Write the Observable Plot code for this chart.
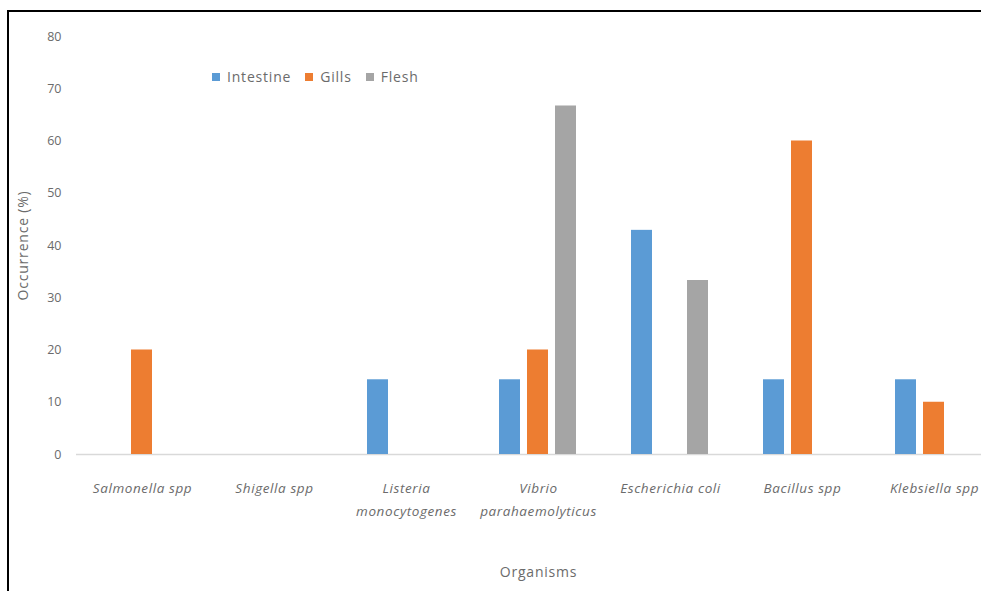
<!DOCTYPE html>
<html>
<head>
<meta charset="utf-8">
<script src="https://cdn.jsdelivr.net/npm/d3@7"></script>
<script src="https://cdn.jsdelivr.net/npm/@observablehq/plot@0.6"></script>
<style>
  html, body { margin: 0; padding: 0; background: #fff; overflow: hidden; width: 981px; height: 591px; }
  #frame { position: absolute; left: 7px; top: 10px; width: 1100px; height: 700px; border-left: 2px solid #000; border-top: 2px solid #000; }
  #chart { position: absolute; left: 0; top: 0; }
  #legend { position: absolute; left: 212px; top: 60px; }
  #legend span { letter-spacing: 0.8px; }
</style>
</head>
<body>
<div id="chart"></div>
<div id="frame"></div>
<div id="legend"></div>
<script>
const organisms = ["Salmonella spp", "Shigella spp", "Listeria\nmonocytogenes", "Vibrio\nparahaemolyticus", "Escherichia coli", "Bacillus spp", "Klebsiella spp"];
const seriesNames = ["Intestine", "Gills", "Flesh"];
const seriesColors = ["#5B9BD5", "#ED7D31", "#A5A5A5"];
const intestine = [0, 0, 14.3, 14.3, 42.9, 14.3, 14.3];
const gills = [20, 0, 0, 20, 0, 60, 10];
const flesh = [0, 0, 0, 66.7, 33.3, 0, 0];
const yTicks = [0, 10, 20, 30, 40, 50, 60, 70, 80];

const seriesValues = [intestine, gills, flesh];
const data = [];
organisms.forEach((o, i) => {
  seriesNames.forEach((s, j) => {
    data.push({organism: o, series: s, value: seriesValues[j][i]});
  });
});

const font = "'Open Sans', sans-serif";
const textColor = "#6b6b6b";

const plot = Plot.plot({
  width: 981,
  height: 591,
  marginLeft: 75,
  marginRight: -20,
  marginTop: 36,
  marginBottom: 137,
  style: { fontFamily: font, color: textColor, background: "transparent", overflow: "visible" },
  fx: { domain: organisms, padding: 0 },
  x: { domain: seriesNames, paddingInner: 0.24, paddingOuter: 0.9, axis: null },
  y: { domain: [0, 80] },
  color: { domain: seriesNames, range: seriesColors },
  marks: [
    Plot.ruleY([0], { stroke: "#d9d9d9", strokeWidth: 1.5 }),
    Plot.barY(data, { fx: "organism", x: "series", y: "value", fill: "series" }),
    Plot.axisY({ ticks: yTicks, tickSize: 0, tickPadding: 15, fontSize: 12.5, label: "Occurrence (%)", labelAnchor: "center", labelArrow: "none", labelOffset: 58 }),
    Plot.axisFx({ anchor: "bottom", tickSize: 0, tickPadding: 22, fontSize: 13.5, fontStyle: "italic", lineHeight: 1.7, label: "Organisms", labelAnchor: "center", labelArrow: "none", labelOffset: 122 })
  ]
});
plot.querySelectorAll("[aria-label='y-axis label'] text, [aria-label='fx-axis label'] text, [aria-label='y-axis label'], [aria-label='fx-axis label']").forEach(t => {
  t.setAttribute("font-size", "14");
  t.setAttribute("font-style", "normal");
  t.setAttribute("letter-spacing", "0.8");
});
plot.querySelectorAll("[aria-label='fx-axis tick label']").forEach(g => g.setAttribute("letter-spacing", "0.6"));
document.getElementById("chart").appendChild(plot);

const legend = Plot.legend({
  color: { domain: seriesNames, range: seriesColors },
  legend: "swatches",
  swatchSize: 8,
  style: { fontFamily: font, fontSize: "14px", color: textColor }
});
document.getElementById("legend").appendChild(legend);
</script>
</body>
</html>
